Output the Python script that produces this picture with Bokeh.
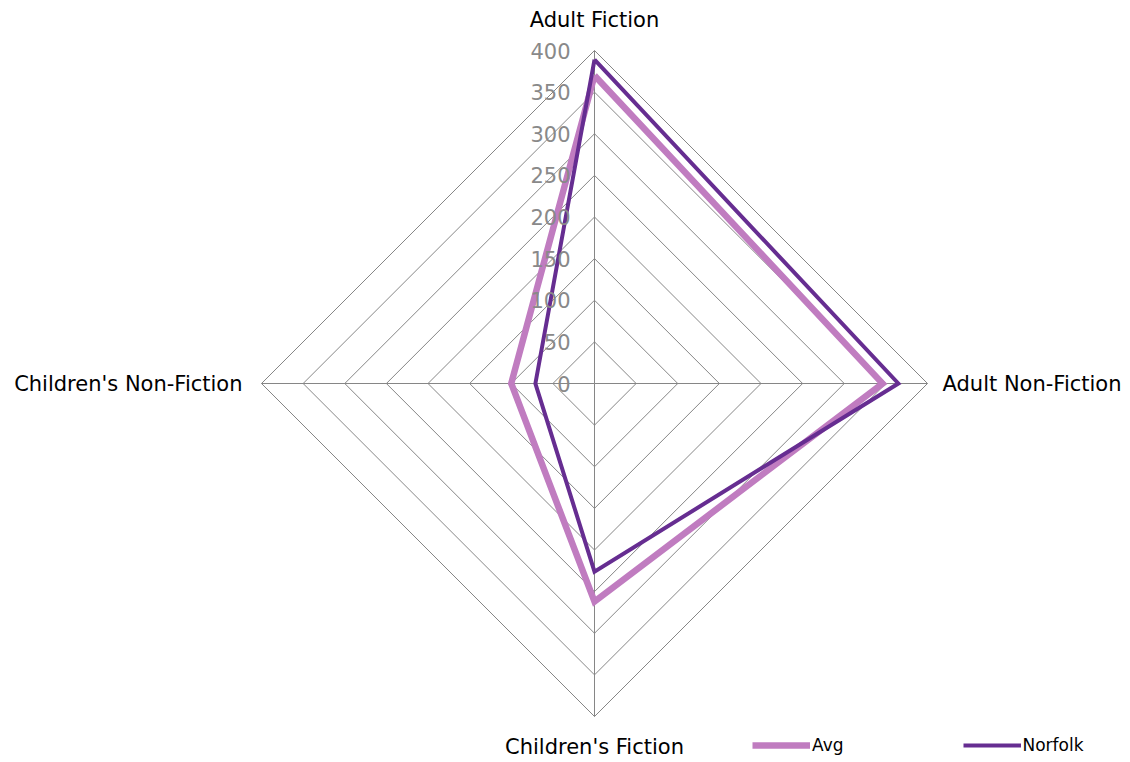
import numpy as np
from bokeh.plotting import figure
from bokeh.models import Range1d, Legend, LegendItem
from bokeh.core.properties import value
from bokeh.embed import file_html
from bokeh.resources import INLINE

categories = ["Adult Fiction", "Adult Non-Fiction", "Children's Fiction", "Children's Non-Fiction"]
avg_values = [370, 346, 262, 100]
norfolk_values = [389, 365, 226, 71]
ring_values = [50, 100, 150, 200, 250, 300, 350, 400]
tick_labels = ["0", "50", "100", "150", "200", "250", "300", "350", "400"]

W, H = 1130, 762
scale = 333 / 400.0
cx_px, cy_px = 594, 383  # center in frame px (from top-left)

p = figure(width=W, height=H, output_backend="svg", toolbar_location=None,
           x_range=Range1d(-cx_px / scale, (W - cx_px) / scale),
           y_range=Range1d(-(H - cy_px) / scale, cy_px / scale),
           min_border=0, outline_line_color=None)
p.axis.visible = False
p.grid.visible = False
p.background_fill_color = "white"

# angles: top, right, bottom, left
angles = np.array([np.pi / 2, 0, -np.pi / 2, np.pi])
ux = np.round(np.cos(angles), 10)
uy = np.round(np.sin(angles), 10)

grid_col = "#868686"
for r in ring_values:
    xs = list(ux * r) + [ux[0] * r]
    ys = list(uy * r) + [uy[0] * r]
    p.line(xs, ys, line_color=grid_col, line_width=1)
rmax = max(ring_values)
for i in range(4):
    p.line([0, ux[i] * rmax], [0, uy[i] * rmax], line_color=grid_col, line_width=1)

def poly(vals):
    v = np.array(vals, dtype=float)
    xs = list(ux * v) + [ux[0] * v[0]]
    ys = list(uy * v) + [uy[0] * v[0]]
    return xs, ys

ax, ay = poly(avg_values)
nx, ny = poly(norfolk_values)
r_avg = p.line(ax, ay, line_color="#C07CC0", line_width=6.5, line_join="miter")
r_nor = p.line(nx, ny, line_color="#662D91", line_width=4, line_join="miter")

# tick labels
tick_vals = [0] + ring_values
p.text(x=[-24 / scale] * len(tick_vals), y=tick_vals, text=tick_labels,
       text_align="right", text_baseline="middle", text_color="#898989",
       text_font_size="21px", text_font=value("DejaVu Sans"))

# category labels
offs = [31, 15, 30, 19]
lx = [ux[i] * (rmax + offs[i] / scale) for i in range(4)]
ly = [uy[i] * (rmax + offs[i] / scale) for i in range(4)]
aligns = ["center", "left", "center", "right"]
for i in range(4):
    p.text(x=[lx[i]], y=[ly[i]], text=[categories[i]], text_align=aligns[i],
           text_baseline="middle", text_color="black", text_font_size="21px",
           text_font=value("DejaVu Sans"))

legend = Legend(items=[LegendItem(label="Avg", renderers=[r_avg]),
                       LegendItem(label="Norfolk", renderers=[r_nor])],
                orientation="horizontal", location=(752, 7),
                glyph_width=58, glyph_height=18, label_standoff=2, spacing=119,
                padding=0, margin=0, border_line_color=None,
                background_fill_alpha=0, label_text_font_size="17px",
                label_text_color="black",
                label_text_font="DejaVu Sans")
p.add_layout(legend, "center")

open("out.html", "w").write(file_html(p, INLINE))
